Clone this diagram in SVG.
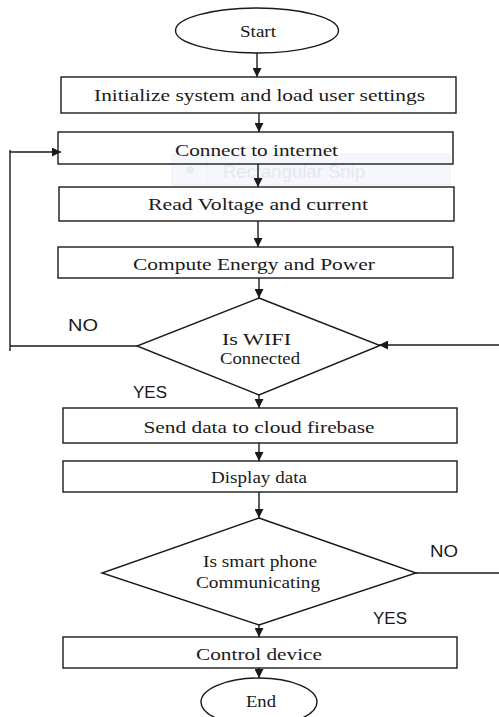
<svg xmlns="http://www.w3.org/2000/svg" width="499" height="717" viewBox="0 0 499 717">
  <defs>
    <marker id="arrow" markerWidth="10" markerHeight="9" refX="9" refY="4.5" orient="auto" markerUnits="userSpaceOnUse">
      <path d="M0,0 L9,4.5 L0,9 Z" fill="#1a1a1a"/>
    </marker>
  </defs>
  <style>
    .shape { fill: #ffffff; stroke: #1a1a1a; stroke-width: 1.4; }
    .open { fill: none; }
    .edge { fill: none; stroke: #1a1a1a; stroke-width: 1.4; }
    .lbl { font-family: "Liberation Serif", "Times New Roman", serif; font-size: 17px; fill: #1a1a1a; text-anchor: middle; }
    .tag { font-family: "Liberation Sans", Arial, sans-serif; font-size: 16px; fill: #1a1a1a; }
    .snip { font-family: "Liberation Sans", Arial, sans-serif; font-size: 18.5px; fill: #e6e8ee; }
  </style>
  <rect width="499" height="717" fill="#ffffff"/>

  <!-- faint snipping-tool tooltip left over in the screenshot -->
  <g id="snip-tooltip">
    <rect x="172" y="154" width="278" height="31" fill="#f5f7fc" stroke="#eceff6" stroke-width="1"/>
    <line x1="207" y1="155" x2="207" y2="184" stroke="#eceff6" stroke-width="1"/>
    <circle cx="190" cy="170" r="4" fill="#eaecf2"/>
    <text class="snip" x="223" y="178" textLength="142" lengthAdjust="spacingAndGlyphs">Rectangular Snip</text>
  </g>

  <g id="start">
    <ellipse class="shape" cx="257" cy="30.5" rx="81.5" ry="22.5"/>
    <text class="lbl" x="258" y="37" textLength="36" lengthAdjust="spacingAndGlyphs">Start</text>
  </g>
  <g id="init">
    <rect class="shape" x="61" y="77" width="395" height="36"/>
    <text class="lbl" x="259.5" y="100.5" textLength="331" lengthAdjust="spacingAndGlyphs">Initialize system and load user settings</text>
  </g>
  <g id="connect">
    <rect class="shape open" x="58" y="132" width="395" height="32"/>
    <text class="lbl" x="256.5" y="156" textLength="163" lengthAdjust="spacingAndGlyphs">Connect to internet</text>
  </g>
  <g id="read">
    <rect class="shape" x="59" y="187" width="395" height="34"/>
    <text class="lbl" x="258" y="209.5" textLength="220" lengthAdjust="spacingAndGlyphs">Read Voltage and current</text>
  </g>
  <g id="compute">
    <rect class="shape" x="58" y="247" width="395" height="31"/>
    <text class="lbl" x="254" y="270" textLength="242" lengthAdjust="spacingAndGlyphs">Compute Energy and Power</text>
  </g>
  <g id="wifi-check">
    <polygon class="shape" points="259,298 380,345.5 259,395 137,346"/>
    <text class="lbl" x="256.5" y="345" textLength="69" lengthAdjust="spacingAndGlyphs">Is WIFI</text>
    <text class="lbl" x="260" y="364" textLength="80" lengthAdjust="spacingAndGlyphs">Connected</text>
  </g>
  <g id="send">
    <rect class="shape" x="63" y="408" width="394" height="35"/>
    <text class="lbl" x="259" y="433" textLength="231" lengthAdjust="spacingAndGlyphs">Send data to cloud firebase</text>
  </g>
  <g id="display">
    <rect class="shape" x="63" y="461" width="394" height="31"/>
    <text class="lbl" x="259" y="482.5" textLength="96" lengthAdjust="spacingAndGlyphs">Display data</text>
  </g>
  <g id="phone-check">
    <polygon class="shape" points="259,518 416,573 259,625 102,573"/>
    <text class="lbl" x="260" y="567" textLength="114" lengthAdjust="spacingAndGlyphs">Is smart phone</text>
    <text class="lbl" x="258" y="587.5" textLength="124" lengthAdjust="spacingAndGlyphs">Communicating</text>
  </g>
  <g id="control">
    <rect class="shape" x="63" y="637" width="394" height="31"/>
    <text class="lbl" x="259" y="659.5" textLength="126" lengthAdjust="spacingAndGlyphs">Control device</text>
  </g>
  <g id="end">
    <ellipse class="shape" cx="259" cy="702" rx="58" ry="24"/>
    <text class="lbl" x="261" y="707" textLength="30" lengthAdjust="spacingAndGlyphs">End</text>
  </g>

  <g id="connectors">
    <line class="edge" x1="257" y1="53" x2="257" y2="77" marker-end="url(#arrow)"/>
    <line class="edge" x1="259" y1="113" x2="259" y2="132" marker-end="url(#arrow)"/>
    <line class="edge" x1="258" y1="164" x2="258" y2="187" marker-end="url(#arrow)"/>
    <line class="edge" x1="258" y1="221" x2="258" y2="247" marker-end="url(#arrow)"/>
    <line class="edge" x1="259" y1="278" x2="259" y2="298" marker-end="url(#arrow)"/>
    <line class="edge" x1="259" y1="395" x2="259" y2="408" marker-end="url(#arrow)"/>
    <line class="edge" x1="259" y1="443" x2="259" y2="461" marker-end="url(#arrow)"/>
    <line class="edge" x1="259" y1="492" x2="259" y2="518" marker-end="url(#arrow)"/>
    <line class="edge" x1="259" y1="625" x2="259" y2="637" marker-end="url(#arrow)"/>
    <line class="edge" x1="259" y1="668" x2="259" y2="678" marker-end="url(#arrow)"/>
    <!-- NO branch of WIFI check loops back to "Connect to internet" -->
    <line class="edge" x1="10" y1="150" x2="10" y2="351"/>
    <path class="edge" d="M137,346 H10"/>
    <path class="edge" d="M10,152 H61" marker-end="url(#arrow)"/>
    <!-- return line entering the WIFI check from the right -->
    <path class="edge" d="M499,345 H379" marker-end="url(#arrow)"/>
    <!-- NO branch of smart phone check -->
    <path class="edge" d="M416,573 H499"/>
  </g>

  <g id="branch-labels">
    <text class="tag" x="68" y="331" textLength="30" lengthAdjust="spacingAndGlyphs">NO</text>
    <text class="tag" x="133" y="398" textLength="34" lengthAdjust="spacingAndGlyphs">YES</text>
    <text class="tag" x="430" y="557" textLength="28" lengthAdjust="spacingAndGlyphs">NO</text>
    <text class="tag" x="373" y="624" textLength="34" lengthAdjust="spacingAndGlyphs">YES</text>
  </g>
</svg>
